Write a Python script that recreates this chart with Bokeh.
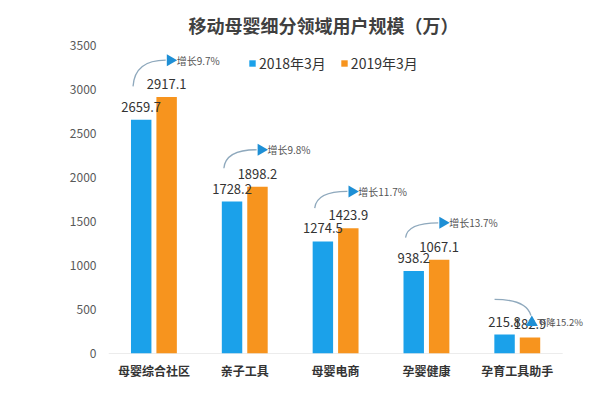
import math
from bokeh.plotting import figure
from bokeh.models import Range1d, FixedTicker, ColumnDataSource, Legend, LegendItem, Label
from bokeh.transform import dodge
from bokeh.core.properties import value
from bokeh.embed import file_html
from bokeh.resources import INLINE

# ---- data ----
categories = ["母婴综合社区", "亲子工具", "母婴电商", "孕婴健康", "孕育工具助手"]
users_2018 = [2659.7, 1728.2, 1274.5, 938.2, 215.8]
users_2019 = [2917.1, 1898.2, 1423.9, 1067.1, 182.9]
change_labels = ["增长9.7%", "增长9.8%", "增长11.7%", "增长13.7%", "下降15.2%"]
series_names = ["2018年3月", "2019年3月"]
y_ticks = [0, 500, 1000, 1500, 2000, 2500, 3000, 3500]
title_text = "移动母婴细分领域用户规模（万）"

FONT = "Noto Sans CJK SC"
BLUE = "#1BA1EA"
ORANGE = "#F7941E"

xs = list(range(1, len(categories) + 1))
src = ColumnDataSource(dict(
    x=xs,
    v18=users_2018,
    v19=users_2019,
    l18=[f"{v:.1f}" for v in users_2018],
    l19=[f"{v:.1f}" for v in users_2019],
))

p = figure(width=584, height=381, x_range=Range1d(0.5, 5.74), y_range=Range1d(0, 3550),
           output_backend="svg", toolbar_location=None,
           min_border_left=108, min_border_right=0, min_border_top=41, min_border_bottom=28)

p.title.text = title_text
p.title.text_font = FONT
p.title.text_font_size = "18px"
p.title.text_font_style = "bold"
p.title.text_color = "#404040"
p.title.align = "left"
p.title.offset = 80
p.title.standoff = 8

# baseline (category axis line spans only the category slots)
p.segment(x0=[0.5], y0=[0], x1=[len(categories) + 0.5], y1=[0], line_color="#D9D9D9", line_width=1)

OFF = 0.14
BW = 0.225
r18 = p.vbar(x=dodge("x", -OFF), top="v18", width=BW, source=src, fill_color=BLUE, line_color=None)
r19 = p.vbar(x=dodge("x", OFF), top="v19", width=BW, source=src, fill_color=ORANGE, line_color=None)

for key, col, off in (("l18", "v18", -OFF), ("l19", "v19", OFF)):
    p.text(x=dodge("x", off), y=col, text=key, source=src,
           text_align="center", text_baseline="bottom", y_offset=-8,
           text_font=value(FONT), text_font_size="13px", text_color="#333333")

# ---- change arrows (positioned relative to the bars) ----
cx0, cy0, cx1, cy1, ccx, ccy = [], [], [], [], [], []
tri_x, tri_y, tri_a = [], [], []
txt = []
for i, a, b, lab in zip(xs, users_2018, users_2019, change_labels):
    if b >= a:
        sx, sy = i - 0.23, a + 380
        ex, ey = i + 0.13, b + 420
        cx0.append(sx); cy0.append(sy); cx1.append(ex); cy1.append(ey)
        ccx.append(sx + 0.02); ccy.append(ey)
        tri_x.append(i + 0.18); tri_y.append(b + 420); tri_a.append(-math.pi / 2)
        txt.append((i + 0.25, b + 420, lab, "10px"))
    else:
        sx, sy = i - 0.25, a + 400
        ex, ey = i + 0.15, b + 250
        cx0.append(sx); cy0.append(sy); cx1.append(ex); cy1.append(ey)
        ccx.append(i + 0.1); ccy.append(a + 400)
        tri_x.append(i + 0.16); tri_y.append(b + 170); tri_a.append(0.0)
        txt.append((i + 0.215, b + 170, lab, "9.5px"))

p.quadratic(x0=cx0, y0=cy0, x1=cx1, y1=cy1, cx=ccx, cy=ccy, line_color="#8FA9BD", line_width=1.3)
p.scatter(x=tri_x, y=tri_y, angle=tri_a, marker="triangle", size=12,
          fill_color="#1E8FD5", line_color=None)
for tx, ty, lab, fs in txt:
    p.add_layout(Label(x=tx, y=ty, text=lab, text_align="left", text_baseline="middle",
                       text_font=FONT, text_font_size=fs, text_color="#555555"))

# ---- legend ----
legend = Legend(items=[LegendItem(label=series_names[0], renderers=[r18]),
                       LegendItem(label=series_names[1], renderers=[r19])],
                orientation="horizontal", location=(140, 280),
                glyph_width=8, glyph_height=8, label_standoff=3, spacing=14,
                padding=0, margin=0, border_line_alpha=0, background_fill_alpha=0,
                label_text_font=FONT, label_text_font_size="14px", label_text_color="#333333")
p.add_layout(legend)

# ---- axes ----
p.yaxis.ticker = FixedTicker(ticks=y_ticks)
p.yaxis.axis_line_alpha = 0
p.yaxis.major_tick_line_alpha = 0
p.yaxis.minor_tick_line_alpha = 0
p.yaxis.major_tick_out = 0
p.yaxis.major_label_standoff = 12
p.yaxis.major_label_text_font = FONT
p.yaxis.major_label_text_font_size = "12px"
p.yaxis.major_label_text_color = "#595959"

p.xaxis.ticker = FixedTicker(ticks=xs)
p.xaxis.major_label_overrides = {i: c for i, c in zip(xs, categories)}
p.xaxis.axis_line_alpha = 0
p.xaxis.major_tick_line_alpha = 0
p.xaxis.minor_tick_line_alpha = 0
p.xaxis.major_tick_out = 0
p.xaxis.major_label_standoff = 8
p.xaxis.major_label_text_font = FONT
p.xaxis.major_label_text_font_size = "12px"
p.xaxis.major_label_text_font_style = "bold"
p.xaxis.major_label_text_color = "#333333"

p.xgrid.visible = False
p.ygrid.visible = False
p.outline_line_alpha = 0

open("out.html", "w").write(file_html(p, INLINE))
